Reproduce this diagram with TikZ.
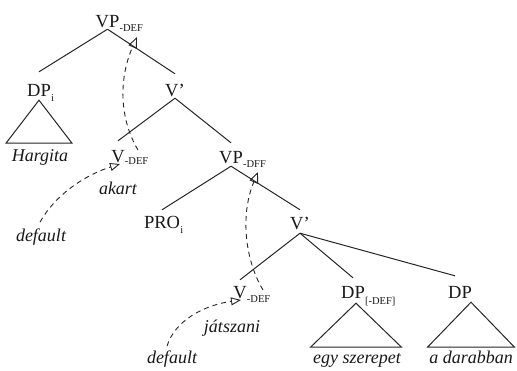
\documentclass[tikz,border=0pt]{standalone}
\usepackage{fontspec}
\setmainfont{Liberation Serif}
\usetikzlibrary{arrows.meta}
\newcommand{\sbs}[2][4pt]{\rlap{\kern0.3pt\raisebox{-#1}{\fontsize{10.5pt}{11pt}\selectfont #2}}}
\begin{document}
\begin{tikzpicture}[x=1pt,y=-1pt,
  cat/.style={anchor=base, inner sep=0pt, text height=13pt, text depth=0pt, font=\fontsize{18.5pt}{20pt}\selectfont, text=black!90},
  word/.style={anchor=base, inner sep=0pt, font=\fontsize{18pt}{20pt}\selectfont\itshape, text=black!90},
  branch/.style={draw=black!85, line width=1pt},
  mv/.style={draw=black!85, line width=0.9pt, dash pattern=on 5pt off 4pt},
  movetip/.style={-{Triangle[open,length=11pt,width=9pt,line width=0.9pt]}},
  pointtip/.style={-{Triangle[open,length=10pt,width=8pt,line width=0.9pt]}}]
\fill[white] (0,0) rectangle (517,370);
\useasboundingbox (0,0) rectangle (517,370);

\node[cat] (vp1) at (107.5,27) {VP\sbs{-DEF}};
\node[cat] (dp1) at (39,96) {DP\sbs[5pt]{i}};
\node[cat] (vb1) at (175,96) {V'};
\node[word] (harg) at (40,161) {Hargita};
\node[cat] (v1) at (118,162) {V\sbs[2pt]{-DEF}};
\node[word] (akart) at (118,194) {akart};
\node[word] (def1) at (41,241) {default};
\node[cat] (vp2) at (231,163) {VP\sbs{-DFF}};
\node[cat] (pro) at (162,228) {PRO\sbs[5pt]{i}};
\node[cat] (vb2) at (300,229) {V'};
\node[cat] (v2) at (240,298) {V\sbs{-DEF}};
\node[word] (jat) at (232,332) {játszani};
\node[word] (def2) at (172,363) {default};
\node[cat] (dp2) at (353,298) {DP\sbs[6pt]{[-DEF]}};
\node[cat] (dp3) at (460,298) {DP};
\node[word] (egy) at (357,363) {egy szerepet};
\node[word] (dar) at (471,363) {a darabban};

\draw[branch] ([yshift=-2pt]vp1.south) -- ([yshift=11pt]dp1.north);
\draw[branch] ([yshift=-2pt]vp1.south) -- ([yshift=9pt]vb1.north);
\draw[branch] ([yshift=-2pt]vb1.south) -- ([yshift=8pt]v1.north);
\draw[branch] ([yshift=-2pt]vb1.south) -- ([yshift=7pt]vp2.north);
\draw[branch] ([yshift=-3pt]vp2.south) -- ([yshift=5pt]pro.north);
\draw[branch] ([yshift=-3pt]vp2.south) -- ([yshift=6pt]vb2.north);
\draw[branch] ([yshift=-4pt]vb2.south) -- ([yshift=5pt]v2.north);
\draw[branch] ([yshift=-4pt]vb2.south) -- ([yshift=7pt]dp2.north);
\draw[branch] ([yshift=-4pt]vb2.south) -- ([xshift=-5pt,yshift=9pt]dp3.north);

\draw[branch] ([yshift=-4pt]dp1.south) -- ++(-33,43) -- ++(66,0) -- cycle;
\draw[branch] ([xshift=3pt,yshift=-5pt]dp2.south) -- ++(-45.5,44) -- ++(91,0) -- cycle;
\draw[branch] ([xshift=11pt,yshift=-4pt]dp3.south) -- ++(-43.5,45) -- ++(87,0) -- cycle;

\coordinate (t1) at (137,37);
\coordinate (t2) at (258,172);
\draw[mv, movetip] ([xshift=20pt,yshift=12pt]v1.base) .. controls (120,120) and (118,80) .. (t1);
\draw[mv, movetip] ([xshift=23pt,yshift=8pt]v2.base) .. controls (245,260) and (240,215) .. (t2);
\draw[mv, pointtip] ([xshift=-1pt,yshift=6pt]def1.north) .. controls (55,195) and (85,175) .. ([xshift=2pt,yshift=-2pt]v1.base);
\draw[mv, pointtip] ([xshift=-5pt,yshift=4pt]def2.north) .. controls (175,320) and (205,305) .. ([xshift=1pt,yshift=-2pt]v2.base);
\end{tikzpicture}
\end{document}
